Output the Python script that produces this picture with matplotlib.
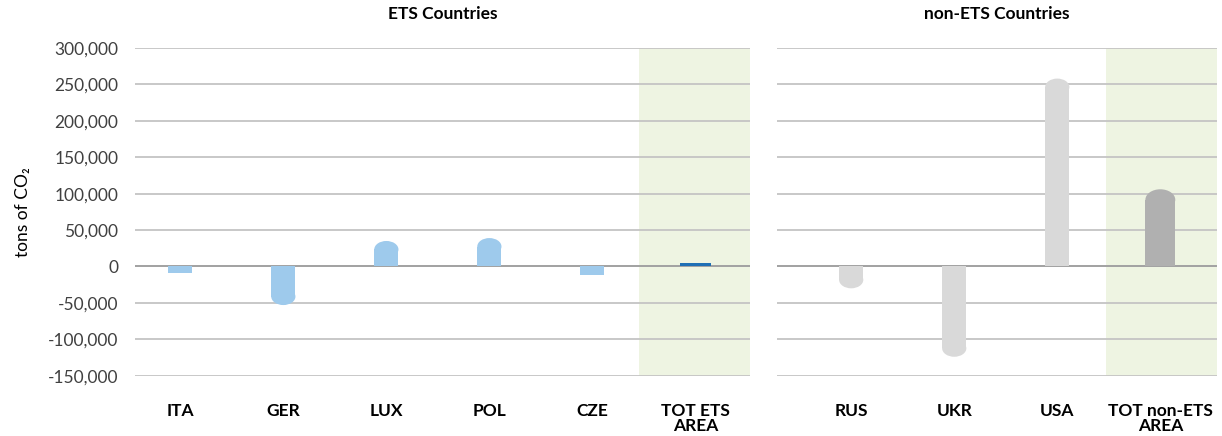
import numpy as np
import matplotlib
matplotlib.use("Agg")
import matplotlib.pyplot as plt
from matplotlib.patches import Ellipse, Rectangle
from matplotlib.ticker import FuncFormatter

plt.rcParams['font.family'] = ['Lato', 'DejaVu Sans']

ets_labels = ['ITA', 'GER', 'LUX', 'POL', 'CZE', 'TOT ETS\nAREA']
ets_values = [-9000, -53000, 35000, 39000, -12000, 4500]
ets_colors = ['#9ECAEC'] * 5 + ['#1F6FB5']

non_labels = ['RUS', 'UKR', 'USA', 'TOT non-ETS\nAREA']
non_values = [-30000, -124000, 258000, 106000]
non_colors = ['#D9D9D9'] * 3 + ['#B0B0B0']

yticks = np.arange(-150000, 300001, 50000)

fig = plt.figure(figsize=(12.22, 4.36), dpi=100)
ax1 = fig.add_axes([135 / 1222, 1 - 375.7 / 436, 615 / 1222, 327.7 / 436])
ax2 = fig.add_axes([777 / 1222, 1 - 375.7 / 436, 440 / 1222, 327.7 / 436])


def rounded_bars(ax, values, colors, widths):
    x = np.arange(len(values))
    bars = ax.bar(x, values, width=widths, color=colors, zorder=3)
    fig.canvas.draw()
    # data units per pixel, to keep the caps round
    p0 = ax.transData.transform((0, 0))
    p1 = ax.transData.transform((1, 1))
    aspect = (1 / (p1[1] - p0[1])) / (1 / (p1[0] - p0[0]))
    for b in bars:
        w = b.get_width()
        h = b.get_height()
        ry = 0.7 * w / 2 * aspect   # caps are a bit flatter than a half circle
        if abs(h) <= ry * 1.5:
            continue
        b.set_visible(False)
        x0 = b.get_x()
        s = np.sign(h)
        fc = b.get_facecolor()
        ax.add_patch(Rectangle((x0, 0), w, h - s * ry, fc=fc, ec='none',
                               lw=0, zorder=3))
        ax.add_patch(Ellipse((x0 + w / 2, h - s * ry), w, 2 * ry, fc=fc,
                             ec='none', lw=0, zorder=3))


def style(ax, labels, title, band):
    ax.set_ylim(-150000, 300000)
    ax.set_yticks(yticks)
    ax.grid(axis='y', color='#C4C4C4', lw=1.3, zorder=0)
    ax.axhline(0, color='#A0A0A0', lw=1.3, zorder=1)
    ax.set_axisbelow(True)
    for s in ax.spines.values():
        s.set_visible(False)
    ax.set_xticks(np.arange(len(labels)))
    ax.set_xticklabels(labels, fontweight='bold', fontsize=12.5, linespacing=0.9)
    ax.tick_params(axis='x', length=0, pad=20)
    ax.tick_params(axis='y', length=0)
    ax.axvspan(band[0], band[1], color='#EEF4E2', lw=0, zorder=0.5)
    ax.set_title(title, fontweight='bold', fontsize=12.5, pad=21)


ax1.set_xlim(-0.44, 5.53)
style(ax1, ets_labels, 'ETS Countries', (4.45, 5.53))
ax1.yaxis.set_major_formatter(FuncFormatter(lambda v, p: f"{int(v):,}"))
ax1.tick_params(axis='y', labelsize=12.5, labelcolor='#404040', pad=12)
ax1.set_ylabel('tons of CO₂', fontsize=12.5, labelpad=12)

ax2.set_xlim(-0.72, 3.55)
style(ax2, non_labels, 'non-ETS Countries', (2.47, 3.55))
ax2.tick_params(axis='y', labelleft=False)

rounded_bars(ax1, ets_values, ets_colors, [0.235] * 5 + [0.3])
rounded_bars(ax2, non_values, non_colors, [0.235] * 3 + [0.29])

fig.savefig('out.png', dpi=100)
